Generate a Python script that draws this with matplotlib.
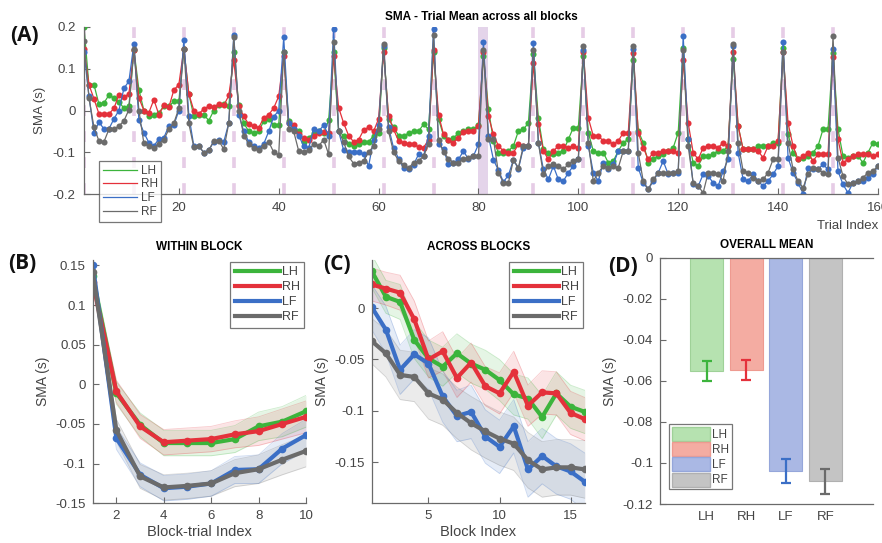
import matplotlib
matplotlib.use('Agg')
import matplotlib.pyplot as plt
from matplotlib.patches import Patch
import numpy as np

plt.rcParams['font.family'] = ['Liberation Sans', 'DejaVu Sans']
plt.rcParams['axes.unicode_minus'] = False

labels = ['LH', 'RH', 'LF', 'RF']
colors = ['#3cb43c', '#e4313b', '#3b6fc6', '#6b6b6b']

# (A) trial mean across all blocks, 16 blocks x 10 trials
trial_LH = [
    0.200, 0.060, 0.062, 0.015, 0.018, 0.037, 0.030, 0.020, 0.006, 0.010,
    0.145, 0.050, 0.000, -0.014, -0.010, -0.005, 0.010, 0.010, 0.022, 0.022,
    0.148, 0.040, -0.014, -0.010, -0.010, -0.024, 0.000, 0.012, 0.015, 0.010,
    0.140, 0.012, -0.030, -0.050, -0.055, -0.050, -0.025, -0.020, -0.035, -0.035,
    0.140, -0.025, -0.045, -0.050, -0.076, -0.065, -0.055, -0.050, -0.055, -0.023,
    0.140, -0.050, -0.060, -0.080, -0.086, -0.080, -0.075, -0.075, -0.060, -0.055,
    0.150, -0.020, -0.040, -0.060, -0.060, -0.055, -0.050, -0.050, -0.033, -0.045,
    0.140, -0.020, -0.060, -0.070, -0.065, -0.055, -0.050, -0.045, -0.045, -0.035,
    0.131, 0.004, -0.073, -0.101, -0.101, -0.097, -0.085, -0.049, -0.045, -0.030,
    0.135, -0.018, -0.093, -0.101, -0.105, -0.101, -0.097, -0.069, -0.041, -0.041,
    0.130, -0.053, -0.097, -0.101, -0.101, -0.125, -0.121, -0.097, -0.077, -0.069,
    0.120, -0.049, -0.077, -0.125, -0.117, -0.109, -0.105, -0.097, -0.089, -0.053,
    0.150, -0.069, -0.125, -0.133, -0.109, -0.109, -0.105, -0.097, -0.097, -0.085,
    0.124, -0.037, -0.093, -0.093, -0.093, -0.085, -0.085, -0.085, -0.077, -0.077,
    0.150, -0.057, -0.101, -0.117, -0.113, -0.109, -0.101, -0.085, -0.045, -0.045,
    0.138, -0.045, -0.109, -0.113, -0.109, -0.109, -0.125, -0.101, -0.077, -0.081,
]
trial_RH = [
    0.148, 0.062, 0.028, -0.008, -0.008, -0.008, 0.005, 0.038, 0.032, 0.040,
    0.145, 0.030, 0.000, -0.005, 0.026, -0.010, 0.012, 0.008, 0.049, 0.062,
    0.148, 0.040, 0.000, -0.008, 0.004, 0.010, 0.008, 0.015, 0.012, 0.036,
    0.120, 0.010, -0.014, -0.033, -0.037, -0.041, -0.018, -0.010, 0.006, 0.034,
    0.130, -0.030, -0.035, -0.057, -0.067, -0.070, -0.060, -0.055, -0.051, -0.055,
    0.130, 0.007, -0.030, -0.060, -0.075, -0.070, -0.047, -0.040, -0.050, -0.020,
    0.140, -0.014, -0.045, -0.073, -0.077, -0.081, -0.081, -0.087, -0.089, -0.070,
    0.145, -0.010, -0.057, -0.070, -0.077, -0.065, -0.052, -0.050, -0.050, -0.037,
    0.140, -0.014, -0.057, -0.085, -0.097, -0.101, -0.101, -0.081, -0.085, -0.085,
    0.113, -0.033, -0.097, -0.117, -0.097, -0.085, -0.085, -0.089, -0.085, -0.089,
    0.140, -0.018, -0.061, -0.061, -0.073, -0.073, -0.081, -0.073, -0.053, -0.053,
    0.137, -0.053, -0.089, -0.117, -0.101, -0.101, -0.097, -0.097, -0.097, -0.101,
    0.120, -0.030, -0.101, -0.117, -0.089, -0.085, -0.085, -0.089, -0.077, -0.085,
    0.140, -0.037, -0.093, -0.093, -0.093, -0.097, -0.113, -0.085, -0.085, -0.073,
    0.140, -0.030, -0.085, -0.117, -0.109, -0.101, -0.121, -0.105, -0.105, -0.105,
    0.128, -0.069, -0.125, -0.117, -0.109, -0.105, -0.105, -0.105, -0.109, -0.105,
]
trial_LF = [
    0.140, 0.035, -0.053, -0.028, -0.044, -0.044, -0.020, 0.000, 0.053, 0.070,
    0.160, -0.023, -0.053, -0.077, -0.085, -0.068, -0.065, -0.037, -0.035, 0.000,
    0.170, -0.012, -0.085, -0.085, -0.101, -0.095, -0.075, -0.070, -0.075, -0.030,
    0.180, -0.010, -0.050, -0.075, -0.085, -0.090, -0.080, -0.050, -0.015, 0.000,
    0.175, -0.030, -0.045, -0.060, -0.085, -0.090, -0.044, -0.050, -0.035, -0.060,
    0.195, -0.050, -0.095, -0.100, -0.100, -0.100, -0.105, -0.133, -0.070, -0.035,
    0.155, -0.040, -0.090, -0.115, -0.138, -0.140, -0.130, -0.105, -0.110, -0.060,
    0.195, -0.080, -0.093, -0.129, -0.125, -0.117, -0.097, -0.117, -0.109, -0.081,
    0.163, -0.061, -0.118, -0.143, -0.171, -0.155, -0.118, -0.140, -0.089, -0.085,
    0.162, -0.077, -0.141, -0.165, -0.133, -0.165, -0.169, -0.149, -0.133, -0.117,
    0.144, -0.085, -0.149, -0.169, -0.125, -0.141, -0.129, -0.097, -0.097, -0.097,
    0.147, -0.137, -0.173, -0.189, -0.169, -0.149, -0.121, -0.153, -0.149, -0.149,
    0.179, -0.069, -0.177, -0.181, -0.153, -0.157, -0.173, -0.181, -0.145, -0.117,
    0.155, -0.101, -0.165, -0.169, -0.153, -0.169, -0.181, -0.169, -0.153, -0.133,
    0.163, -0.113, -0.149, -0.173, -0.199, -0.137, -0.141, -0.141, -0.129, -0.141,
    0.147, -0.145, -0.177, -0.197, -0.173, -0.169, -0.169, -0.161, -0.153, -0.133,
]
trial_RF = [
    0.167, 0.030, -0.040, -0.073, -0.075, -0.045, -0.045, -0.037, -0.025, 0.002,
    0.148, 0.000, -0.079, -0.086, -0.090, -0.080, -0.070, -0.045, -0.030, 0.005,
    0.148, -0.031, -0.088, -0.085, -0.101, -0.095, -0.073, -0.072, -0.093, -0.030,
    0.175, 0.000, -0.060, -0.080, -0.090, -0.095, -0.085, -0.075, -0.100, -0.106,
    0.140, -0.045, -0.050, -0.097, -0.100, -0.095, -0.080, -0.085, -0.070, -0.105,
    0.165, -0.050, -0.075, -0.110, -0.127, -0.125, -0.120, -0.100, -0.085, -0.045,
    0.160, -0.050, -0.100, -0.120, -0.130, -0.138, -0.125, -0.120, -0.110, -0.080,
    0.180, -0.070, -0.100, -0.115, -0.125, -0.125, -0.115, -0.113, -0.110, -0.110,
    0.144, -0.069, -0.069, -0.149, -0.173, -0.173, -0.118, -0.137, -0.085, -0.085,
    0.144, -0.077, -0.153, -0.133, -0.129, -0.133, -0.141, -0.129, -0.121, -0.117,
    0.155, -0.077, -0.169, -0.149, -0.133, -0.137, -0.133, -0.137, -0.097, -0.097,
    0.155, -0.101, -0.169, -0.189, -0.165, -0.149, -0.149, -0.149, -0.149, -0.145,
    0.144, -0.085, -0.173, -0.181, -0.197, -0.149, -0.149, -0.153, -0.169, -0.097,
    0.159, -0.077, -0.145, -0.149, -0.161, -0.169, -0.165, -0.149, -0.117, -0.117,
    0.140, -0.077, -0.141, -0.169, -0.185, -0.153, -0.137, -0.141, -0.149, -0.153,
    0.179, -0.113, -0.157, -0.177, -0.173, -0.169, -0.161, -0.149, -0.145, -0.133,
]
trials = np.arange(1, 161)
block_starts = [1, 11, 21, 31, 41, 51, 61, 71, 91, 101, 111, 121, 131, 141, 151]

# (B) within block
bt_idx = [1, 2, 3, 4, 5, 6, 7, 8, 9, 10]
within_LH = [0.136, -0.011, -0.051, -0.074, -0.074, -0.074, -0.069, -0.053, -0.047, -0.034]
within_RH = [0.129, -0.009, -0.053, -0.073, -0.071, -0.069, -0.063, -0.059, -0.050, -0.041]
within_LF = [0.151, -0.068, -0.114, -0.131, -0.129, -0.125, -0.108, -0.107, -0.081, -0.064]
within_RF = [0.142, -0.058, -0.116, -0.130, -0.128, -0.125, -0.112, -0.107, -0.095, -0.084]
within_se = [0.012, 0.014, 0.015, 0.016, 0.016, 0.016, 0.017, 0.018, 0.019, 0.020]

# (C) across blocks
blk_idx = list(range(1, 17))
across_LH = [0.036, 0.011, 0.006, -0.031, -0.049, -0.057, -0.044, -0.054, -0.060, -0.070,
             -0.084, -0.088, -0.106, -0.083, -0.096, -0.101]
across_RH = [0.023, 0.019, 0.015, -0.011, -0.050, -0.042, -0.068, -0.053, -0.076, -0.083,
             -0.062, -0.095, -0.082, -0.083, -0.102, -0.108]
across_LF = [0.001, -0.021, -0.060, -0.045, -0.054, -0.086, -0.105, -0.101, -0.125, -0.135,
             -0.115, -0.157, -0.144, -0.154, -0.159, -0.169]
across_RF = [-0.032, -0.044, -0.065, -0.067, -0.083, -0.089, -0.102, -0.112, -0.120, -0.127,
             -0.132, -0.148, -0.157, -0.155, -0.155, -0.157]
across_se_H = [0.016, 0.016, 0.017, 0.018, 0.018, 0.019, 0.019, 0.019, 0.019, 0.020,
               0.020, 0.020, 0.021, 0.021, 0.021, 0.021]
across_se_F = [0.022, 0.023, 0.024, 0.024, 0.025, 0.025, 0.025, 0.026, 0.026, 0.026,
               0.026, 0.027, 0.027, 0.027, 0.027, 0.028]

# (D) overall mean
overall_mean = [-0.0553, -0.0545, -0.1038, -0.1090]
overall_err = [0.0050, 0.0049, 0.0058, 0.0059]
bar_faces = ['#b6e2b0', '#f4aca2', '#aab8e4', '#c4c4c4']
bar_edges = ['#9fd198', '#ee9a90', '#95a6da', '#b0b0b0']

fig = plt.figure(figsize=(8.82, 5.43), dpi=100)
spine_c = '#6a6a6a'
tick_c = '#444444'


def style(ax, fs=9.5, pad=5):
    for s in ['top', 'right']:
        ax.spines[s].set_visible(False)
    for s in ['left', 'bottom']:
        ax.spines[s].set_color(spine_c)
        ax.spines[s].set_linewidth(0.9)
    ax.tick_params(direction='in', length=4, width=0.8, color=spine_c,
                   labelcolor=tick_c, labelsize=fs, pad=pad)


def frame(leg):
    leg.get_frame().set_edgecolor('#555555')
    leg.get_frame().set_linewidth(0.9)
    for t in leg.get_texts():
        t.set_color(tick_c)


# ---- panel A
axA = fig.add_axes([0.0952, 0.6427, 0.9002, 0.3076])
style(axA, 9.5, 6)
axA.axvspan(80, 82, color='#e4d4ea', lw=0, zorder=0)
for b in block_starts:
    axA.axvline(b, color='#e6cce6', lw=2.6, ls=(0, (3.0, 4.2)), zorder=0)
for ys, c, lab in zip([trial_LH, trial_RH, trial_LF, trial_RF], colors, labels):
    axA.plot(trials, ys, '-', color=c, lw=0.9, label=lab)
    axA.plot(trials, ys, 'o', color=c, ms=4.4, mec='none')
axA.set_xlim(1, 160)
axA.set_ylim(-0.2, 0.2)
axA.set_xticks([20, 40, 60, 80, 100, 120, 140, 160])
axA.set_yticks([-0.2, -0.1, 0, 0.1, 0.2])
axA.set_yticklabels(['-0.2', '-0.1', '0', '0.1', '0.2'])
axA.set_ylabel('SMA (s)', fontsize=9.5, color=tick_c, labelpad=5)
axA.set_xlabel('Trial Index', fontsize=9.5, color=tick_c, loc='right', labelpad=4)
axA.set_title('SMA - Trial Mean across all blocks', fontsize=8.5, fontweight='bold',
              pad=5)
legA = axA.legend(loc='lower left', bbox_to_anchor=(0.012, -0.2), fontsize=8.5,
                  frameon=True, fancybox=False, handlelength=2.9, borderpad=0.3,
                  labelspacing=0.15, handletextpad=0.3)
frame(legA)


def band_panel(ax, x, series, ses):
    style(ax)
    for ys, se, c in zip(series, ses, colors):
        ys = np.array(ys)
        se = np.array(se)
        ax.fill_between(x, ys - se, ys + se, color=c, alpha=0.13, lw=0)
        ax.plot(x, ys + se, color=c, lw=0.6, alpha=0.25)
        ax.plot(x, ys - se, color=c, lw=0.6, alpha=0.25)
    for ys, c, lab in zip(series, colors, labels):
        ax.plot(x, ys, '-', color=c, lw=3.0, label=lab)
        ax.plot(x, ys, 'o', color=c, ms=5.5, mec='none')
    leg = ax.legend(loc='upper right', fontsize=9, frameon=True, fancybox=False,
                    handlelength=3.6, borderpad=0.35, labelspacing=0.25,
                    handletextpad=0.15, borderaxespad=0.15)
    frame(leg)


# ---- panel B
axB = fig.add_axes([0.1051, 0.0731, 0.2418, 0.4484])
band_panel(axB, bt_idx, [within_LH, within_RH, within_LF, within_RF],
           [within_se] * 4)
axB.set_xlim(1, 10)
axB.set_ylim(-0.15, 0.157)
axB.set_xticks([2, 4, 6, 8, 10])
axB.set_yticks([-0.15, -0.1, -0.05, 0, 0.05, 0.1, 0.15])
axB.set_yticklabels(['-0.15', '-0.1', '-0.05', '0', '0.05', '0.1', '0.15'])
axB.set_ylabel('SMA (s)', fontsize=10, color=tick_c, labelpad=4)
axB.set_xlabel('Block-trial Index', fontsize=10.5, color=tick_c, labelpad=2)
axB.set_title('WITHIN BLOCK', fontsize=8.5, fontweight='bold', pad=7)

# ---- panel C
axC = fig.add_axes([0.4214, 0.0731, 0.2416, 0.4484])
band_panel(axC, blk_idx, [across_LH, across_RH, across_LF, across_RF],
           [across_se_H, across_se_H, across_se_F, across_se_F])
axC.set_xlim(1, 16)
axC.set_ylim(-0.19, 0.047)
axC.set_xticks([5, 10, 15])
axC.set_yticks([-0.15, -0.1, -0.05, 0])
axC.set_yticklabels(['-0.15', '-0.1', '-0.05', '0'])
axC.set_ylabel('SMA (s)', fontsize=10, color=tick_c, labelpad=4)
axC.set_xlabel('Block Index', fontsize=10.5, color=tick_c, labelpad=2)
axC.set_title('ACROSS BLOCKS', fontsize=8.5, fontweight='bold', pad=7)

# ---- panel D
axD = fig.add_axes([0.7483, 0.0718, 0.2412, 0.4536])
style(axD)
axD.spines['top'].set_visible(True)
axD.spines['top'].set_color(spine_c)
axD.spines['top'].set_linewidth(0.9)
xpos = np.arange(1, 5)
axD.bar(xpos, overall_mean, width=0.83, color=bar_faces, edgecolor=bar_edges,
        lw=0.8, zorder=1)
for xp, m, e, c in zip(xpos, overall_mean, overall_err, colors):
    axD.errorbar(xp, m, yerr=e, color=c, lw=1.6, capsize=3.5, capthick=1.6, zorder=3)
axD.set_xlim(-0.18, 5.2)
axD.set_ylim(-0.12, 0)
axD.set_xticks(xpos)
axD.set_xticklabels(labels)
axD.tick_params(axis='x', length=0)
axD.set_yticks([-0.12, -0.1, -0.08, -0.06, -0.04, -0.02, 0])
axD.set_yticklabels(['-0.12', '-0.1', '-0.08', '-0.06', '-0.04', '-0.02', '0'])
axD.set_ylabel('SMA (s)', fontsize=10, color=tick_c, labelpad=4)
axD.set_title('OVERALL MEAN', fontsize=8.5, fontweight='bold', pad=7)
legD = axD.legend(handles=[Patch(facecolor=f, edgecolor=e, label=l)
                           for f, e, l in zip(bar_faces, bar_edges, labels)],
                  loc='lower left', bbox_to_anchor=(0.015, 0.035), fontsize=8.5,
                  frameon=True, fancybox=False, handlelength=3.2, handleheight=1.45,
                  borderpad=0.25, labelspacing=0.1, handletextpad=0.2)
frame(legD)

# panel letters
for x, y, s in [(0.012, 0.925, '(A)'), (0.009, 0.505, '(B)'),
                (0.366, 0.503, '(C)'), (0.689, 0.5, '(D)')]:
    fig.text(x, y, s, fontsize=15, fontweight='bold', family='Open Sans',
             color='#111111')

fig.savefig('out.png', dpi=100)
